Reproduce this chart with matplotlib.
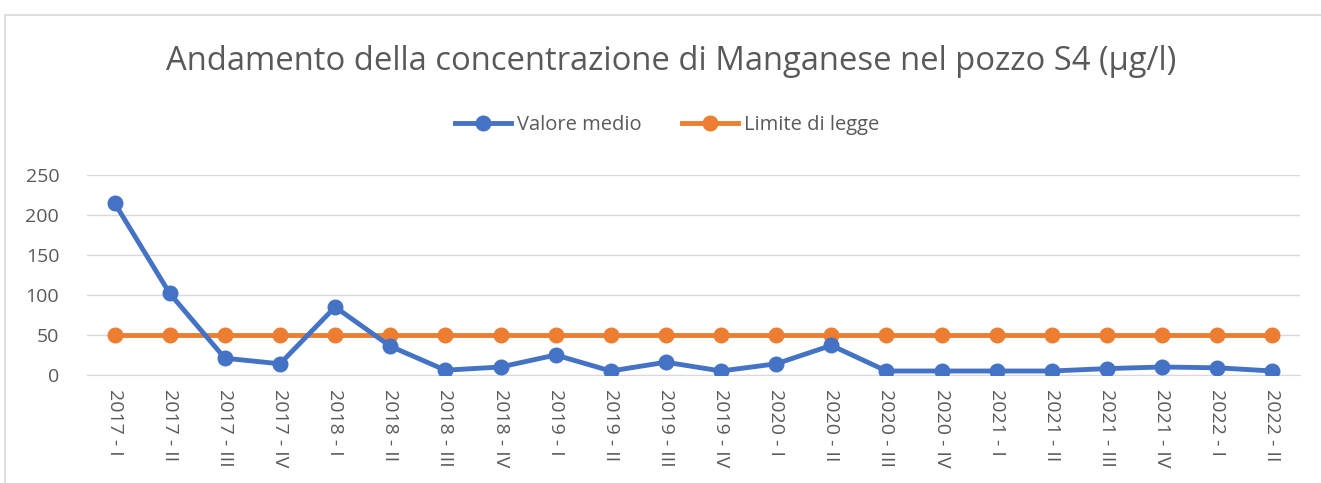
import numpy as np
import matplotlib.pyplot as plt
from matplotlib.patches import Rectangle

periodi = ['2017 - I', '2017 - II', '2017 - III', '2017 - IV',
           '2018 - I', '2018 - II', '2018 - III', '2018 - IV',
           '2019 - I', '2019 - II', '2019 - III', '2019 - IV',
           '2020 - I', '2020 - II', '2020 - III', '2020 - IV',
           '2021 - I', '2021 - II', '2021 - III', '2021 - IV',
           '2022 - I', '2022 - II']
valore_medio = [215, 102, 21, 14, 85, 36, 6, 10, 25, 5, 16, 5,
                14, 37, 5, 5, 5, 5, 8, 10, 9, 5]
limite_legge = [50] * len(periodi)

blu = '#4472C4'
arancio = '#ED7D31'
grigio = '#595959'

plt.rcParams['font.family'] = ['Open Sans', 'DejaVu Sans']

fig = plt.figure(figsize=(13.21, 4.83), dpi=100)
fig.patches.append(Rectangle((5/1321, -0.1), 1.2, 1 - 15/483 + 0.1, transform=fig.transFigure,
                             fill=False, edgecolor='#d9d9d9', linewidth=1.2))
ax = fig.add_axes([87/1321, 1 - 375/483, (1300 - 87)/1321, 200/483])

x = np.arange(len(periodi))
ax.plot(x, valore_medio, color=blu, linewidth=3.5, marker='o', markersize=10.5, label='Valore medio', zorder=3)
ax.plot(x, limite_legge, color=arancio, linewidth=3.5, marker='o', markersize=10.5, label='Limite di legge', zorder=2)

ax.set_xlim(-0.5, len(periodi) - 0.5)
ax.set_ylim(0, 250)
ax.set_yticks([0, 50, 100, 150, 200, 250])
ax.set_xticks(x)
ax.set_xticklabels(periodi, rotation=-90)
ax.tick_params(axis='both', length=0, colors=grigio, labelsize=14)
ax.tick_params(axis='x', pad=10)
ax.tick_params(axis='y', pad=20)
ax.grid(axis='y', color='#d9d9d9', linewidth=1)
ax.set_axisbelow(True)
for s in ['top', 'right', 'left']:
    ax.spines[s].set_visible(False)
ax.spines['bottom'].set_color('#d9d9d9')

fig.text(0.508, 1 - 62/483, 'Andamento della concentrazione di Manganese nel pozzo S4 (µg/l)',
         ha='center', va='center', fontsize=23.6, color=grigio)
fig.legend(loc='center', bbox_to_anchor=(0.505, 1 - 125/483), ncol=2, frameon=False,
           fontsize=14.5, labelcolor=grigio, handlelength=2.8, columnspacing=2.0, handletextpad=0.3)

fig.savefig('out.png', dpi=100)
